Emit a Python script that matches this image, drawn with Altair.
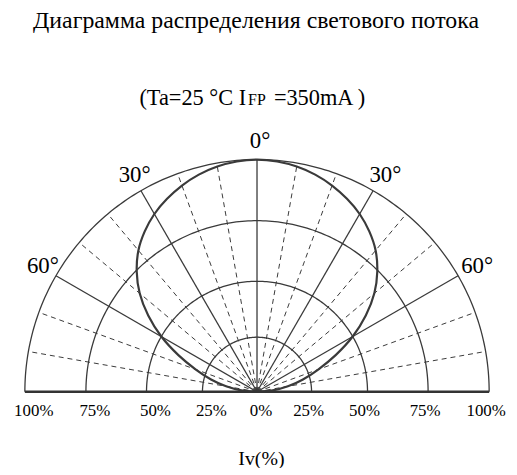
import altair as alt
import numpy as np
import pandas as pd

# ---------------- data ----------------
title_text = "Диаграмма распределения светового потока"
subtitle_parts = ["(Ta=25 °C I", "FP", "=350mA )"]
x_title = "Iv(%)"

curve_angles = [-90, -85, -80, -75, -70, -65, -60, -55, -50, -45, -40, -35, -30, -25, -20, -15, -10, -5,
                0, 5, 10, 15, 20, 25, 30, 35, 40, 45, 50, 55, 60, 65, 70, 75, 80, 85, 90]
curve_values = [0.0, 7.2, 14.4, 21.8, 29.7, 39.4, 50.0, 59.2, 67.6, 74.6, 80.5, 85.1, 89.0, 92.1, 94.8, 97.0, 98.6, 99.6,
                100.0, 99.6, 98.6, 97.0, 94.8, 92.1, 89.0, 85.1, 80.5, 74.6, 67.6, 59.2, 50.0, 39.4, 29.7, 21.8, 14.4, 7.2, 0.0]

ring_values = [25, 50, 75, 100]
solid_spokes = [-60, -30, 0, 30, 60]
dashed_spokes = [-80, -70, -50, -40, -20, -10, 10, 20, 40, 50, 70, 80]
angle_label_angles = [-60, -30, 0, 30, 60]
angle_labels = ["60°", "30°", "0°", "30°", "60°"]
pct_ticks = [-100, -75, -50, -25, 0, 25, 50, 75, 100]
pct_labels = ["100%", "75%", "50%", "25%", "0%", "25%", "50%", "75%", "100%"]

# radial scale of the printed grid (rings are not evenly spaced)
RADIAL_DOMAIN = [0, 25, 50, 75, 100]
RADIAL_RANGE = [0, 0.235, 0.476, 0.737, 1.0]


def rad(p):
    return np.interp(p, RADIAL_DOMAIN, RADIAL_RANGE)


def polar(r, a):
    t = np.radians(a)
    return r * np.sin(t), r * np.cos(t)


LINE = "#3a3a3a"
FONT = "Liberation Serif, Times New Roman, serif"

# ---------------- tables ----------------
rows = []
for v in ring_values:
    for a in range(-90, 91):
        x, y = polar(rad(v), a)
        rows.append({"ring": v, "a": a, "x": x, "y": y})
rings = pd.DataFrame(rows)


def spokes(angles):
    out = []
    for a in angles:
        for i, r in enumerate([0.0, 1.0]):
            x, y = polar(r, a)
            out.append({"spoke": a, "i": i, "x": x, "y": y})
    return pd.DataFrame(out)


solid = spokes(solid_spokes)
dashed = spokes(dashed_spokes)

cx, cy = polar(rad(np.array(curve_values)), np.array(curve_angles))
curve = pd.DataFrame({"i": range(len(curve_angles)), "x": cx, "y": cy})

base = pd.DataFrame({"x": [-1.0], "x2": [1.0], "y": [0.0]})

lx, ly = polar(1.08, np.array(angle_label_angles))
alab = pd.DataFrame({"x": lx, "y": ly, "t": angle_labels})

plab = pd.DataFrame({
    "x": [np.sign(v) * rad(abs(v)) for v in pct_ticks],
    "y": [0.0] * len(pct_ticks),
    "t": pct_labels,
    "side": ["l"] * 4 + ["c"] + ["r"] * 4,
})

X = alt.X("x:Q", scale=alt.Scale(domain=[-1, 1], nice=False, zero=False), axis=None)
Y = alt.Y("y:Q", scale=alt.Scale(domain=[0, 1], nice=False, zero=False), axis=None)

ring_layer = alt.Chart(rings).mark_line(color=LINE, strokeWidth=1.3).encode(
    x=X, y=Y, detail="ring:N", order="a:Q")
solid_layer = alt.Chart(solid).mark_line(color=LINE, strokeWidth=1.3).encode(
    x=X, y=Y, detail="spoke:N", order="i:Q")
dashed_layer = alt.Chart(dashed).mark_line(color=LINE, strokeWidth=1.0, strokeDash=[5, 4]).encode(
    x=X, y=Y, detail="spoke:N", order="i:Q")
curve_layer = alt.Chart(curve).mark_line(color=LINE, strokeWidth=2.2, interpolate="catmull-rom").encode(
    x=X, y=Y, order="i:Q")
base_layer = alt.Chart(base).mark_rule(color="#333333", strokeWidth=2.6).encode(
    x=X, x2="x2:Q", y=Y)

alab_layer = alt.Chart(alab).mark_text(font=FONT, fontSize=23, color="black", dx=3, baseline="middle").encode(
    x=X, y=Y, text="t:N")

plab_l = alt.Chart(plab[plab.side == "l"]).mark_text(font=FONT, fontSize=17, color="black", dx=9, dy=19,
                                                     baseline="middle").encode(x=X, y=Y, text="t:N")
plab_c = alt.Chart(plab[plab.side == "c"]).mark_text(font=FONT, fontSize=17, color="black", dx=4, dy=19,
                                                     baseline="middle").encode(x=X, y=Y, text="t:N")
plab_r = alt.Chart(plab[plab.side == "r"]).mark_text(font=FONT, fontSize=17, color="black", dx=-3, dy=19,
                                                     baseline="middle").encode(x=X, y=Y, text="t:N")

one = pd.DataFrame({"t": [0]})
title_layer = alt.Chart(one).mark_text(font=FONT, fontSize=24, color="black", align="center",
                                       baseline="alphabetic", text=title_text).encode(
    x=alt.value(233), y=alt.value(-133))
sub1 = alt.Chart(one).mark_text(font=FONT, fontSize=22.5, color="black", align="right",
                                baseline="alphabetic", text=subtitle_parts[0]).encode(
    x=alt.value(223), y=alt.value(-55))
sub2 = alt.Chart(one).mark_text(font=FONT, fontSize=16, color="black", align="left",
                                baseline="alphabetic", text=subtitle_parts[1]).encode(
    x=alt.value(225), y=alt.value(-55))
sub3 = alt.Chart(one).mark_text(font=FONT, fontSize=22.5, color="black", align="left",
                                baseline="alphabetic", text=subtitle_parts[2]).encode(
    x=alt.value(251), y=alt.value(-55))
xt_layer = alt.Chart(one).mark_text(font=FONT, fontSize=20, color="black", align="center",
                                    baseline="alphabetic", text=x_title).encode(
    x=alt.value(238.5), y=alt.value(308))

chart = alt.layer(
    ring_layer, dashed_layer, solid_layer, curve_layer, base_layer,
    alab_layer, plab_l, plab_c, plab_r, title_layer, sub1, sub2, sub3, xt_layer,
).properties(
    width=468, height=234,
    padding={"left": 17, "top": 151, "right": 20, "bottom": 75},
    autosize=alt.AutoSizeParams(type="none"),
    background="white",
).configure_view(stroke=None)

chart.save("out.html", embed_options={"renderer": "svg", "actions": False})
